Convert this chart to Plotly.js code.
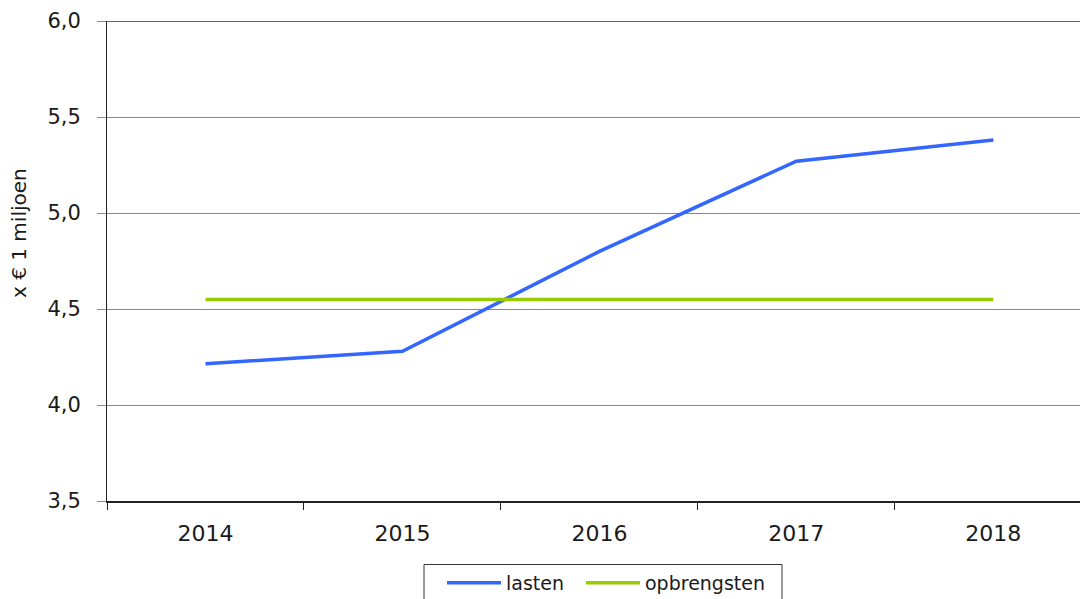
<!DOCTYPE html>
<html>
<head>
<meta charset="utf-8">
<script src="https://cdn.plot.ly/plotly-3.0.1.min.js"></script>
<style>html,body{margin:0;padding:0;background:#fff;}#chart{width:1080px;height:599px;}</style>
</head>
<body>
<div id="chart"></div>
<script>
var years = ["2014", "2015", "2016", "2017", "2018"];
var lasten = [4.215, 4.28, 4.80, 5.27, 5.38];
var opbrengsten = [4.55, 4.55, 4.55, 4.55, 4.55];
var yTicks = [3.5, 4.0, 4.5, 5.0, 5.5, 6.0];
var yTitle = "x € 1 miljoen";

var font = "DejaVu Sans, Verdana, sans-serif";
// pixel helpers for layout placement (plot area 107..1080 x, 21..501 y)
function px(x) { return (x - 107) / 973; }
function py(y) { return (501 - y) / 480; }

var traces = [
  {x: years, y: lasten, name: "lasten", type: "scatter", mode: "lines", legend: "legend",
   line: {color: "#3366FF", width: 3.5}},
  {x: years, y: opbrengsten, name: "opbrengsten", type: "scatter", mode: "lines", legend: "legend2",
   line: {color: "#99CC00", width: 3.5}}
];
function legendAt(x) {
  return {orientation: "h", x: px(x), xanchor: "left", y: py(564), yanchor: "top",
    borderwidth: 0, bgcolor: "rgba(0,0,0,0)",
    font: {family: font, size: 19, color: "#1a1a1a"}, itemwidth: 54};
}
var layout = {
  width: 1080, height: 599,
  margin: {l: 107, r: 0, t: 21, b: 98, autoexpand: false},
  paper_bgcolor: "#ffffff", plot_bgcolor: "#ffffff",
  separators: ", ",
  font: {family: font, color: "#1a1a1a", size: 21},
  showlegend: true,
  legend: legendAt(442),
  legend2: legendAt(581),
  xaxis: {type: "category", range: [-0.5, 4.44], tickson: "boundaries", automargin: false,
    ticks: "outside", ticklen: 7, tickcolor: "#222", tickwidth: 1,
    showline: true, linecolor: "#222", linewidth: 2, showgrid: false, zeroline: false,
    tickfont: {size: 22}, ticklabelstandoff: 12, fixedrange: true},
  yaxis: {range: [3.5, 6.0], tickvals: yTicks, tickformat: ".1f", automargin: false,
    ticks: "outside", ticklen: 9, tickcolor: "#888", tickwidth: 1,
    showline: true, linecolor: "#222", linewidth: 1,
    showgrid: true, gridcolor: "#888", gridwidth: 1, zeroline: false,
    tickfont: {size: 21}, ticklabelstandoff: 12},
  annotations: [{text: yTitle, textangle: -90, xref: "paper", yref: "paper",
    x: px(19), y: py(233), xanchor: "center", yanchor: "middle", showarrow: false,
    font: {family: font, size: 20, color: "#1a1a1a"}}],
  shapes: [
    {type: "line", xref: "paper", yref: "y", x0: 0, x1: 1, y0: 6.0, y1: 6.0,
     line: {color: "#333", width: 1.5}},
    {type: "rect", xref: "paper", yref: "paper", x0: px(424), x1: px(782), y0: py(564.5), y1: py(610),
     line: {color: "#333", width: 1}, fillcolor: "rgba(0,0,0,0)"}
  ]
};
Plotly.newPlot("chart", traces, layout, {displayModeBar: false, staticPlot: true});
</script>
</body>
</html>
